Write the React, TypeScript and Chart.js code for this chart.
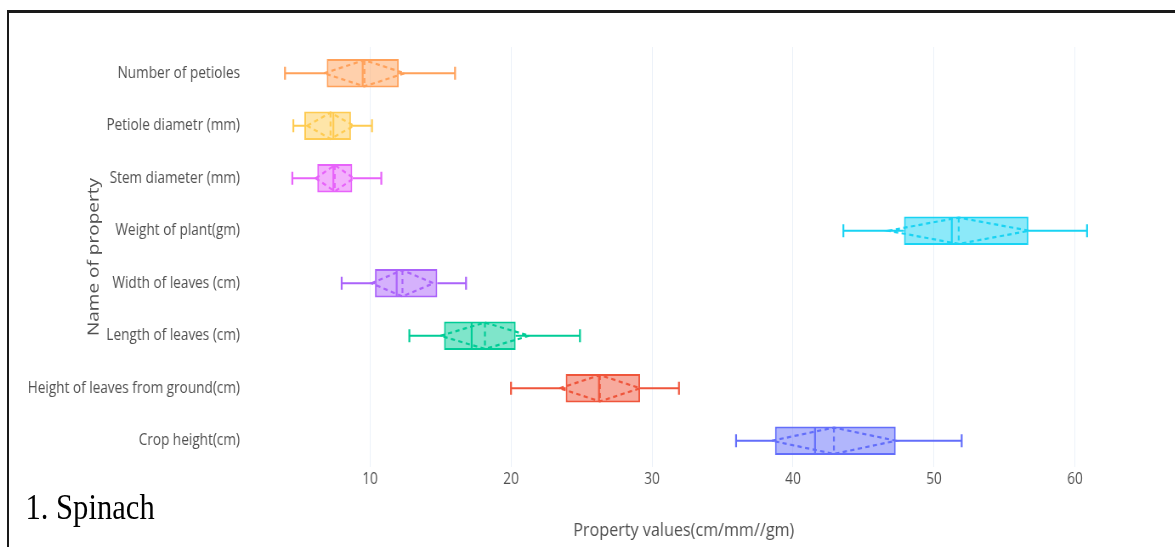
import React, { useEffect, useRef } from "react";
import { Chart, registerables } from "chart.js";

Chart.register(...registerables);

// ---- data ----
const categories = [
  "Number of petioles",
  "Petiole diametr (mm)",
  "Stem diameter (mm)",
  "Weight of plant(gm)",
  "Width of leaves (cm)",
  "Length of leaves (cm)",
  "Height of leaves from ground(cm)",
  "Crop height(cm)",
];
const lowFence = [3.97, 4.56, 4.49, 43.57, 7.99, 12.79, 20.0, 35.96];
const q1 = [6.93, 5.34, 6.26, 47.87, 10.35, 15.25, 23.88, 38.72];
const median = [9.48, 7.4, 7.4, 51.26, 11.89, 17.21, 26.24, 41.56];
const q3 = [12.04, 8.65, 8.74, 56.69, 14.77, 20.33, 29.15, 47.28];
const highFence = [16.03, 10.14, 10.8, 60.85, 16.81, 24.89, 31.91, 51.96];
const mean = [9.6, 7.2, 7.5, 51.75, 12.3, 18.15, 26.3, 42.9];
const sd = [2.86, 1.65, 1.35, 5.0, 2.2, 3.15, 2.85, 4.4];
const colors = [
  "#FFA15A",
  "#FECB52",
  "#E763FA",
  "#19D3F3",
  "#AB63FA",
  "#00CC96",
  "#EF553B",
  "#636EFA",
];
const xTicks = [10, 20, 30, 40, 50, 60];
const xTitle = "Property values(cm/mm//gm)";
const yTitle = "Name of property";
const caption = "1. Spinach";

const SQUEEZE = 0.85;
const CW = 1383;
const CH = 547;

function hexA(hex: string, a: number) {
  const n = parseInt(hex.slice(1), 16);
  return `rgba(${(n >> 16) & 255},${(n >> 8) & 255},${n & 255},${a})`;
}

const boxPlugin = {
  id: "boxExtras",
  afterDatasetsDraw(chart: any) {
    const { ctx } = chart;
    const xs = chart.scales.x;
    const meta = chart.getDatasetMeta(0);
    const px = (v: number) => xs.getPixelForValue(v);
    meta.data.forEach((bar: any, i: number) => {
      const yc = bar.y;
      const half = bar.height / 2 - 1;
      const cap = half / 2;
      ctx.save();
      ctx.strokeStyle = colors[i];
      ctx.lineWidth = 2.2;
      ctx.setLineDash([]);
      ctx.beginPath();
      ctx.moveTo(px(lowFence[i]), yc);
      ctx.lineTo(px(q1[i]), yc);
      ctx.moveTo(px(q3[i]), yc);
      ctx.lineTo(px(highFence[i]), yc);
      ctx.moveTo(px(lowFence[i]), yc - cap);
      ctx.lineTo(px(lowFence[i]), yc + cap);
      ctx.moveTo(px(highFence[i]), yc - cap);
      ctx.lineTo(px(highFence[i]), yc + cap);
      ctx.stroke();
      // median
      ctx.beginPath();
      ctx.moveTo(px(median[i]), yc - half);
      ctx.lineTo(px(median[i]), yc + half);
      ctx.stroke();
      // mean (dashed)
      ctx.setLineDash([5, 4]);
      ctx.beginPath();
      ctx.moveTo(px(mean[i]), yc - half);
      ctx.lineTo(px(mean[i]), yc + half);
      ctx.stroke();
      // sd diamond
      ctx.beginPath();
      ctx.moveTo(px(mean[i] - sd[i]), yc);
      ctx.lineTo(px(mean[i]), yc - half);
      ctx.lineTo(px(mean[i] + sd[i]), yc);
      ctx.lineTo(px(mean[i]), yc + half);
      ctx.closePath();
      ctx.stroke();
      ctx.restore();
    });
  },
};

export default function App() {
  const ref = useRef<HTMLCanvasElement>(null);
  useEffect(() => {
    if (!ref.current) return;
    Chart.defaults.font.family = "'Open Sans', sans-serif";
    const chart = new Chart(ref.current, {
      type: "bar",
      data: {
        labels: categories,
        datasets: [
          {
            data: q1.map((v, i) => [v, q3[i]]) as any,
            backgroundColor: colors.map((c) => hexA(c, 0.5)),
            borderColor: colors,
            borderWidth: 2,
            borderSkipped: false,
            barPercentage: 0.54,
            categoryPercentage: 1,
          },
        ],
      },
      options: {
        indexAxis: "y",
        responsive: false,
        animation: false,
        events: [],
        layout: { padding: { left: 0, top: 47, right: 68.5, bottom: 1 } },
        plugins: { legend: { display: false }, tooltip: { enabled: false } },
        scales: {
          x: {
            type: "linear",
            min: 1.5,
            max: 63,
            afterBuildTicks: (s: any) => {
              s.ticks = xTicks.map((v) => ({ value: v }));
            },
            afterFit: (s: any) => {
              s.height = 79;
            },
            grid: { color: "#EBF0F8", lineWidth: 1, drawTicks: false },
            border: { display: false },
            ticks: {
              padding: 3,
              maxRotation: 0,
              color: "#505050",
              font: { size: 16 },
            },
            title: {
              display: true,
              text: xTitle,
              color: "#505050",
              font: { size: 19 },
            },
          },
          y: {
            type: "category",
            afterFit: (s: any) => {
              s.width = 294.3;
            },
            grid: { display: false, drawTicks: false },
            border: { display: false },
            ticks: {
              padding: 12,
              autoSkip: false,
              color: "#505050",
              font: { size: 16 },
            },
            title: {
              display: true,
              text: yTitle,
              color: "#505050",
              font: { size: 19 },
              padding: { top: 99, bottom: 4 },
            },
          },
        },
      },
      plugins: [boxPlugin],
    } as any);
    return () => chart.destroy();
  }, []);

  return (
    <div
      style={{
        position: "absolute",
        left: 0,
        top: 0,
        width: 1175,
        height: 547,
        overflow: "hidden",
        background: "#fff",
      }}
    >
      <div
        style={{
          position: "absolute",
          left: 0,
          top: 0,
          width: CW,
          height: CH,
          transform: `scaleX(${SQUEEZE})`,
          transformOrigin: "0 0",
        }}
      >
        <canvas ref={ref} width={CW} height={CH} style={{ display: "block" }} />
        <div
          style={{
            position: "absolute",
            left: 30,
            top: 489,
            fontFamily: "'Liberation Serif', 'Times New Roman', serif",
            fontSize: 36,
            lineHeight: 1,
            color: "#000",
            whiteSpace: "nowrap",
          }}
        >
          {caption}
        </div>
      </div>
      <div style={{ position: "absolute", left: 7, top: 10, width: 1168, height: 3, background: "#1a1a1a" }} />
      <div style={{ position: "absolute", left: 7, top: 10, width: 2, height: 537, background: "#1a1a1a" }} />
    </div>
  );
}
